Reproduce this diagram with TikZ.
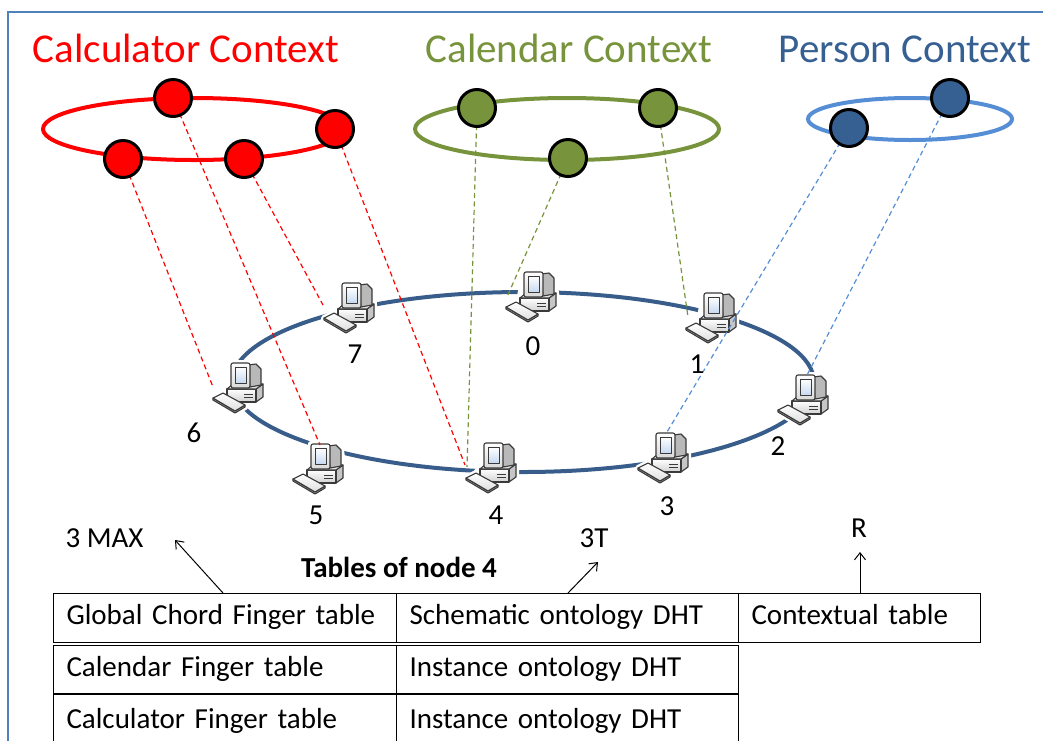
\documentclass[tikz,border=0pt]{standalone}
\usepackage{fontspec}
\setmainfont{Carlito}
\usetikzlibrary{arrows.meta}

\definecolor{calcred}{HTML}{FF0000}
\definecolor{calgreen}{HTML}{77933C}
\definecolor{persdark}{HTML}{376092}
\definecolor{perslight}{HTML}{558ED5}
\definecolor{ringblue}{HTML}{385D8A}
\definecolor{frameblue}{HTML}{4F81BD}
\definecolor{pcdark}{HTML}{3A3A3A}
\definecolor{screenblue}{HTML}{C6D9F1}

\pgfdeclarelayer{back}
\pgfdeclarelayer{mid}
\pgfsetlayers{back,mid,main}

\tikzset{
  pcbody/.style={draw=pcdark, line width=1.1pt, line join=round},
  pcicon/.pic={
    % white halo, so the ring stops short of the computer
    \fill[white, draw=white, line width=6pt, line join=round]
      (-29,13) -- (-19,8) -- (-15,3) -- (-11,-22) -- (8,-22) -- (14,-21) -- (19,-16)
      -- (21,-1) -- (21,12) -- (15,18) -- (5,18) -- (3,22) -- (-7,28) -- (-29,15) -- cycle;
    % desktop case
    \draw[pcbody, fill=gray!45] (14,4) -- (21,-1) -- (21,12) -- (14,17) -- cycle;
    \draw[pcbody, top color=white, bottom color=gray!35] (-15,4) rectangle (14,17);
    \draw[pcbody, fill=gray!20] (-15,4) -- (-9,-1) -- (21,-1) -- (14,4) -- cycle;
    \draw[pcdark, line width=0.8pt] (2,9) -- (11,9) (2,12) -- (11,12);
    % monitor
    \draw[pcbody, fill=gray!55] (6,-20) -- (14,-21) -- (19,-16) -- (19,0) -- (8,2) -- cycle;
    \draw[pcbody, rounded corners=2pt, top color=white, bottom color=gray!30] (-11,-22) rectangle (8,3);
    \draw[pcbody, line width=0.8pt, top color=white, bottom color=screenblue] (-7,-18) rectangle (4,-2);
    % keyboard
    \draw[pcbody, fill=gray!45] (-29,13) -- (-29,15) -- (-7,28) -- (3,22) -- (3,20) -- (-7,26) -- cycle;
    \draw[pcbody, top color=white, bottom color=gray!25] (-29,13) -- (-19,8) -- (3,20) -- (-7,26) -- cycle;
  },
  ctxtitle/.style={anchor=base, font=\fontsize{41}{49}\selectfont},
  ctxnode/.style={circle, draw=black, line width=3pt, minimum size=37pt, inner sep=0pt},
  ctxring/.style={line width=4pt},
  ctxdash/.style={dash pattern=on 5pt off 3.5pt, line width=1.2pt},
  pclabel/.style={anchor=base, font=\fontsize{29}{35}\selectfont},
  cell/.style={draw, line width=1pt, anchor=north west, inner xsep=13pt, inner ysep=0pt,
    align=left, text height=20pt, text depth=7pt, minimum height=49pt,
    font=\fontsize{29}{35}\selectfont},
  note/.style={font=\fontsize{29}{35}\selectfont},
  ptr/.style={line width=1pt, -{Straight Barb[length=7pt, width=11pt]}}
}

\begin{document}
\begin{tikzpicture}[x=1pt, y=-1pt]
\useasboundingbox (0,0) rectangle (1043,740);
\clip (0,0) rectangle (1043,740);

% frame
\draw[frameblue, line width=2pt] (8,800) -- (8,12) -- (1100,12);

% titles
\node[ctxtitle, text=calcred]  (tcalc) at (186,62) {Calculator Context};
\node[ctxtitle, text=calgreen] (tcal)  at (569,62) {Calendar Context};
\node[ctxtitle, text=persdark] (tpers) at (905,62) {Person Context};

\begin{pgfonlayer}{back}
  % context rings
  \draw[calcred, ctxring]    (194,129) ellipse [x radius=151, y radius=31];
  \draw[calgreen, ctxring]   (567,129) ellipse [x radius=152, y radius=31];
  \draw[perslight, ctxring]  (910,119) ellipse [x radius=102, y radius=21];
  % global ring of peers
  \draw[ringblue, line width=4pt] (523,382) ellipse [x radius=291, y radius=90];
  % peers
  \pic (pc0) at (535,294) {pcicon};
  \pic (pc1) at (715,315) {pcicon};
  \pic (pc2) at (807,397) {pcicon};
  \pic (pc3) at (667,455) {pcicon};
  \pic (pc4) at (495,465) {pcicon};
  \pic (pc5) at (322,466) {pcicon};
  \pic (pc6) at (242,385) {pcicon};
  \pic (pc7) at (353,305) {pcicon};
\end{pgfonlayer}

% peer numbers
\node[pclabel] (l0) at (533,355) {0};
\node[pclabel] (l1) at (697,373) {1};
\node[pclabel] (l2) at (778,455) {2};
\node[pclabel] (l3) at (667,515) {3};
\node[pclabel] (l4) at (496,524) {4};
\node[pclabel] (l5) at (316,524) {5};
\node[pclabel] (l6) at (194,442) {6};
\node[pclabel] (l7) at (355,363) {7};

% context members
\node[ctxnode, fill=calcred] (ca1) at (173,98)  {};
\node[ctxnode, fill=calcred] (ca2) at (123,159) {};
\node[ctxnode, fill=calcred] (ca3) at (244,159) {};
\node[ctxnode, fill=calcred] (ca4) at (335,129) {};
\node[ctxnode, fill=calgreen] (cd1) at (477,108) {};
\node[ctxnode, fill=calgreen] (cd2) at (658,108) {};
\node[ctxnode, fill=calgreen] (cd3) at (568,158) {};
\node[ctxnode, fill=persdark] (pe1) at (849,128) {};
\node[ctxnode, fill=persdark] (pe2) at (950,98)  {};

% where the mapping lines meet the peers
\coordinate (e5)  at (320,445);
\coordinate (e6)  at (213,387);
\coordinate (e7)  at (323,305);
\coordinate (e4a) at (465,465);
\coordinate (e4b) at (467,467);
\coordinate (e0)  at (507,297);
\coordinate (e1)  at (688,317);
\coordinate (e3)  at (667,432);
\coordinate (e2)  at (806,377);

\begin{pgfonlayer}{mid}
  \draw[calcred, ctxdash]   (ca1.center) -- (e5);
  \draw[calcred, ctxdash]   (ca2.center) -- (e6);
  \draw[calcred, ctxdash]   (ca3.center) -- (e7);
  \draw[calcred, ctxdash]   (ca4.center) -- (e4a);
  \draw[calgreen, ctxdash]  (cd1.center) -- (e4b);
  \draw[calgreen, ctxdash]  (cd3.center) -- (e0);
  \draw[calgreen, ctxdash]  (cd2.center) -- (e1);
  \draw[perslight, ctxdash] (pe1.center) -- (e3);
  \draw[perslight, ctxdash] (pe2.center) -- (e2);
\end{pgfonlayer}

% tables of node 4
\node[anchor=base, font=\fontsize{29}{35}\selectfont\bfseries] (thead) at (399,577) {Tables of node 4};
\node[cell, text width=317] (t11) at (53,593)  {Global Chord Finger table};
\node[cell, text width=316] (t12) at (396,593) {Schematic ontology DHT};
\node[cell, text width=216] (t13) at (738,593) {Contextual table};
\node[cell, text width=317] (t21) at (53,645)  {Calendar Finger table};
\node[cell, text width=316] (t22) at (396,645) {Instance ontology DHT};
\node[cell, text width=317, minimum height=56] (t31) at (53,693)  {Calculator Finger table};
\node[cell, text width=316, minimum height=56] (t32) at (396,693) {Instance ontology DHT};

% sizes of the tables
\node[note, anchor=base east] (nmax) at (147,547) {3 MAX};
\node[note, anchor=base] (n3t) at (594,547) {3T};
\node[note, anchor=base] (nr)  at (859,537) {R};
\coordinate (s1) at (223,593);
\coordinate (h1) at (175,540);
\coordinate (s2) at (568,593);
\coordinate (h2) at (598,562);
\coordinate (s3) at (860,593);
\coordinate (h3) at (860,552);
\draw[ptr] (s1) -- (h1);
\draw[ptr] (s2) -- (h2);
\draw[ptr] (s3) -- (h3);
\end{tikzpicture}
\end{document}
